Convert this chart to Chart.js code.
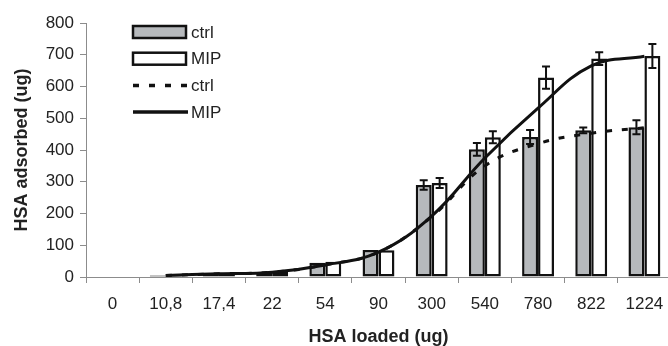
<!DOCTYPE html>
<html>
<head>
<meta charset="utf-8">
<script src="https://cdn.jsdelivr.net/npm/chart.js@4.4.0/dist/chart.umd.min.js"></script>
<style>
    html, body { margin: 0; padding: 0; background: #fff; overflow: hidden; }
    #wrap { position: relative; width: 680px; height: 348px; }
</style>
</head>
<body>
<div id="wrap"><canvas id="chart"></canvas></div>
<script>
// HSA loaded (ug)
var categories = ["0", "10,8", "17,4", "22", "54", "90", "300", "540", "780", "822", "1224"];
// bars: HSA adsorbed (ug) with error
var ctrlBars = [0, 5, 10, 15, 45, 85, 290, 402, 441, 462, 472];
var ctrlErr  = [0, 0, 0, 0, 0, 0, 15, 20, 22, 9, 22];
var mipBars  = [0, 5, 12, 17, 48, 84, 296, 440, 628, 688, 696];
var mipErr   = [0, 0, 0, 0, 0, 0, 16, 19, 35, 20, 38];
// smoothed curves
var ctrlLine = [null, 5, 10, 15, 38, 78, 190, 350, 420, 453, 470];
var mipLine  = [null, 5, 10, 15, 38, 78, 192, 375, 532, 665, 695];
var yTicks = [0, 100, 200, 300, 400, 500, 600, 700, 800];

var FONT = "'Liberation Sans', Arial, sans-serif";
var TXT = "#222";
var AXIS = "#8c8c8c";
var GRAY = "#b6b9bc";

// error bars on top of the bars
var errorBarPlugin = {
    id: "errorBars",
    afterDatasetsDraw: function (chart) {
        var ctx = chart.ctx;
        var yScale = chart.scales.y;
        chart.data.datasets.forEach(function (ds, i) {
            if (!ds.errors) return;
            var meta = chart.getDatasetMeta(i);
            meta.data.forEach(function (bar, j) {
                var err = ds.errors[j];
                if (!err) return;
                var top = yScale.getPixelForValue(ds.data[j] + err);
                var bot = yScale.getPixelForValue(ds.data[j] - err);
                ctx.save();
                ctx.strokeStyle = "#111";
                ctx.lineWidth = 2;
                ctx.beginPath();
                ctx.moveTo(bar.x, top); ctx.lineTo(bar.x, bot);
                ctx.moveTo(bar.x - 4, top); ctx.lineTo(bar.x + 4, top);
                ctx.moveTo(bar.x - 4, bot); ctx.lineTo(bar.x + 4, bot);
                ctx.stroke();
                ctx.restore();
            });
        });
    }
};

// legend inside the plot, upper left
var legendPlugin = {
    id: "insideLegend",
    afterDraw: function (chart) {
        var ctx = chart.ctx;
        var x0 = chart.chartArea.left + 47;
        var y0 = chart.chartArea.top + 9;
        var rowH = 26.7;
        ctx.save();
        chart.data.datasets.forEach(function (ds, i) {
            var yc = y0 + i * rowH;
            ctx.strokeStyle = "#111";
            if (ds.type === "bar") {
                ctx.lineWidth = 2.5;
                ctx.fillStyle = ds.backgroundColor;
                ctx.fillRect(x0, yc - 6, 53, 12);
                ctx.strokeRect(x0, yc - 6, 53, 12);
            } else {
                ctx.lineWidth = 3.5;
                ctx.setLineDash(ds.borderDash || []);
                ctx.beginPath();
                ctx.moveTo(x0, yc); ctx.lineTo(x0 + 55, yc);
                ctx.stroke();
                ctx.setLineDash([]);
            }
            ctx.fillStyle = TXT;
            ctx.font = "17px " + FONT;
            ctx.textBaseline = "middle";
            ctx.fillText(ds.label, x0 + 58, yc + 1);
        });
        ctx.restore();
    }
};

var ctx = document.getElementById("chart").getContext("2d");
var myChart = new Chart(ctx, {
    data: {
        labels: categories,
        datasets: [{
            type: "bar",
            label: "ctrl",
            data: ctrlBars,
            errors: ctrlErr,
            backgroundColor: GRAY,
            borderColor: "#111",
            borderWidth: 2.5,
            borderSkipped: false,
            order: 2
        }, {
            type: "bar",
            label: "MIP",
            data: mipBars,
            errors: mipErr,
            backgroundColor: "#fff",
            borderColor: "#111",
            borderWidth: 2.5,
            borderSkipped: false,
            order: 2
        }, {
            type: "line",
            label: "ctrl",
            data: ctrlLine,
            borderColor: "#111",
            borderWidth: 3,
            borderDash: [6, 10],
            pointRadius: 0,
            tension: 0.4,
            fill: false,
            order: 1
        }, {
            type: "line",
            label: "MIP",
            data: mipLine,
            borderColor: "#111",
            borderWidth: 3,
            pointRadius: 0,
            tension: 0.4,
            fill: false,
            order: 0
        }]
    },
    options: {
        responsive: true,
        maintainAspectRatio: false,
        animation: false,
        layout: { padding: { top: 23, right: 9, left: 0, bottom: 0 } },
        plugins: {
            legend: { display: false },
            tooltip: { enabled: false }
        },
        datasets: {
            bar: { categoryPercentage: 0.6, barPercentage: 1.0 }
        },
        scales: {
            x: {
                offset: true,
                grid: { offset: true, drawOnChartArea: false, drawTicks: true, tickLength: 6, color: AXIS },
                border: { color: AXIS, width: 1 },
                ticks: { color: TXT, font: { family: FONT, size: 17 }, padding: 11, maxRotation: 0, autoSkip: false },
                title: { display: true, text: "HSA loaded (ug)", color: TXT, font: { family: FONT, size: 18, weight: "bold" }, padding: { top: 0, bottom: 0 } },
                afterFit: function (scale) { scale.height = 71; }
            },
            y: {
                min: 0,
                max: 800,
                afterBuildTicks: function (scale) {
                    scale.ticks = yTicks.map(function (v) { return { value: v }; });
                },
                grid: { drawOnChartArea: false, drawTicks: true, tickLength: 6, color: AXIS },
                border: { color: AXIS, width: 1 },
                ticks: { color: TXT, font: { family: FONT, size: 17 }, padding: 6 },
                title: { display: true, text: "HSA adsorbed (ug)", color: TXT, font: { family: FONT, size: 18, weight: "bold" }, padding: { top: 11, bottom: 0 } },
                afterFit: function (scale) { scale.width = 86; }
            }
        }
    },
    plugins: [errorBarPlugin, legendPlugin]
});
</script>
</body>
</html>
